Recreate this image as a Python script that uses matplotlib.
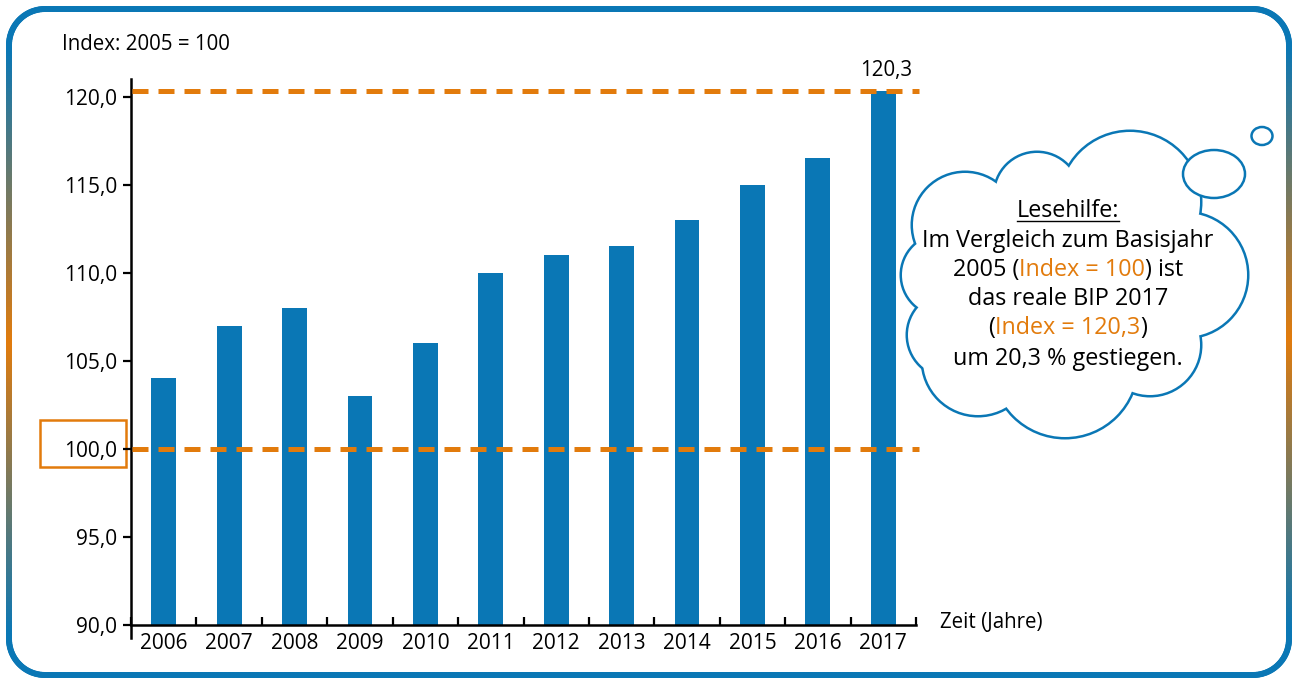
import matplotlib
matplotlib.use("agg")
import matplotlib.pyplot as plt
import numpy as np
from matplotlib.patches import Circle, Ellipse, Rectangle
from matplotlib.collections import LineCollection

plt.rcParams['font.family'] = ['Open Sans', 'DejaVu Sans']

# data
years = ["2006", "2007", "2008", "2009", "2010", "2011",
         "2012", "2013", "2014", "2015", "2016", "2017"]
index_values = [104.0, 107.0, 108.0, 103.0, 106.0, 110.0,
                111.0, 111.5, 113.0, 115.0, 116.5, 120.3]
base_value = 100.0
last_value = 120.3
y_ticks = [90, 95, 100, 105, 110, 115, 120]
y_ticklabels = ["90,0", "95,0", "100,0", "105,0", "110,0", "115,0", "120,0"]

BLUE = "#0a77b5"
ORANGE = "#e27b0c"
W, H = 1294, 680

fig = plt.figure(figsize=(W / 100, H / 100), dpi=100)

# overlay in pixel coordinates (frame, cloud, notes)
bg = fig.add_axes([0, 0, 1, 1], zorder=0)
bg.set_xlim(0, W)
bg.set_ylim(H, 0)
bg.axis("off")

# rounded frame with vertical blue-orange-blue gradient
def rounded_rect(x0, y0, x1, y1, r, n=30):
    pts = []
    for cx, cy, a0 in [(x1 - r, y0 + r, -90), (x1 - r, y1 - r, 0),
                       (x0 + r, y1 - r, 90), (x0 + r, y0 + r, 180)]:
        a = np.radians(np.linspace(a0, a0 + 90, n))
        pts += list(zip(cx + r * np.cos(a), cy + r * np.sin(a)))
    pts.append(pts[0])
    return np.array(pts)

pts = rounded_rect(9, 9, 1289, 675, 36)
dense = [pts[0]]
for p, q in zip(pts[:-1], pts[1:]):
    k = max(2, int(np.hypot(*(q - p)) / 4))
    for t in np.linspace(0, 1, k)[1:]:
        dense.append(p + (q - p) * t)
dense = np.array(dense)
segs = np.stack([dense[:-1], dense[1:]], axis=1)
c_blue = np.array(matplotlib.colors.to_rgb(BLUE))
c_or = np.array(matplotlib.colors.to_rgb(ORANGE))
ymid = (segs[:, 0, 1] + segs[:, 1, 1]) / 2
f = np.clip(1 - np.abs(ymid - 340) / 290, 0, 1)
cols = c_blue[None, :] * (1 - f[:, None]) + c_or[None, :] * f[:, None]
bg.add_collection(LineCollection(segs, colors=cols, linewidths=4.3,
                                 capstyle="round"))

# cloud
bumps = [((942, 275), 40), ((950, 335), 42), ((965, 225), 52),
         ((1037, 195), 42), ((1130, 202), 70), ((1185, 275), 62),
         ((1150, 345), 50), ((1065, 365), 72), ((978, 360), 55)]
for c, r in bumps:
    bg.add_patch(Circle(c, r, fc="white", ec=BLUE, lw=3.6, zorder=2))
for c, r in bumps:
    bg.add_patch(Circle(c, r, fc="white", ec="none", zorder=3))
bg.add_patch(Ellipse((1070, 285), 280, 200, fc="white", ec="none", zorder=3))
bg.add_patch(Ellipse((1214, 174), 62, 48, fc="white", ec=BLUE, lw=1.8, zorder=4))
bg.add_patch(Ellipse((1262, 136), 21, 18, fc="white", ec=BLUE, lw=1.8, zorder=4))

renderer = fig.canvas.get_renderer()

def colored_line(x, y, parts, size):
    texts = [bg.text(0, y, s, color=c, fontsize=size, ha="left",
                     va="baseline", zorder=6) for s, c in parts]
    widths = [t.get_window_extent(renderer).width for t in texts]
    cur = x - sum(widths) / 2
    for t, w in zip(texts, widths):
        t.set_x(cur)
        cur += w
    return texts

fs = 16.8
cx = 1068
t = colored_line(cx, 217, [("Lesehilfe:", "black")], fs)[0]
ext = t.get_window_extent(renderer)
bg.plot([ext.x0, ext.x1], [221, 221], color="black", lw=1.0, zorder=6)
colored_line(cx, 247, [("Im Vergleich zum Basisjahr", "black")], fs)
colored_line(cx, 276, [("2005 (", "black"), ("Index = 100", ORANGE), (") ist", "black")], fs)
colored_line(cx, 305, [("das reale BIP 2017", "black")], fs)
colored_line(cx, 334, [("(", "black"), ("Index = 120,3", ORANGE), (")", "black")], fs)
colored_line(cx, 365, [("um 20,3 % gestiegen.", "black")], fs)

# orange box around 100,0
bg.add_patch(Rectangle((40, 420), 86, 47, fc="none", ec=ORANGE, lw=1.8, zorder=2))

bg.text(62, 45, "Index: 2005 = 100", fontsize=14.8, ha="left", va="center")
bg.text(940, 622, "Zeit (Jahre)", fontsize=14.8, ha="left", va="center")

# main chart
ax = fig.add_axes([131 / W, 1 - 639 / H, (916 - 131) / W, (639 - 79) / H], zorder=1)
ax.patch.set_alpha(0)
x = np.arange(len(years))
ax.bar(x, [v - 90 for v in index_values], bottom=90, width=0.38, color=BLUE, zorder=2)

dash = (0, (3.2, 2.0))
ax.plot([-0.48, 11.55], [base_value, base_value], color=ORANGE, lw=3.6,
        linestyle=dash, clip_on=False, zorder=3)
ax.plot([-0.48, 11.55], [last_value, last_value], color=ORANGE, lw=3.6,
        linestyle=dash, clip_on=False, zorder=3)
ax.text(x[-1] + 0.05, last_value + 1.2, "120,3", fontsize=14.8, ha="center", va="center")

ax.set_xlim(-0.5, 11.5)
ax.set_ylim(89.2, 121.0)
for s in ["top", "right"]:
    ax.spines[s].set_visible(False)
ax.spines["bottom"].set_position(("data", 90))
ax.spines["left"].set_bounds(89.25, 121.0)
ax.spines["left"].set_linewidth(1.8)
ax.spines["bottom"].set_linewidth(1.8)

ax.set_yticks(y_ticks)
ax.set_yticklabels(y_ticklabels)
ax.tick_params(axis="y", direction="out", length=6, width=1.6, labelsize=15, pad=4)
ax.set_xticks(x)
ax.set_xticklabels(years)
ax.set_xticks(np.arange(-0.5, 12, 1), minor=True)
ax.tick_params(axis="x", which="major", length=0, labelsize=15, pad=6)
ax.tick_params(axis="x", which="minor", direction="in", length=6, width=1.6)

fig.savefig("out.png", dpi=100)
